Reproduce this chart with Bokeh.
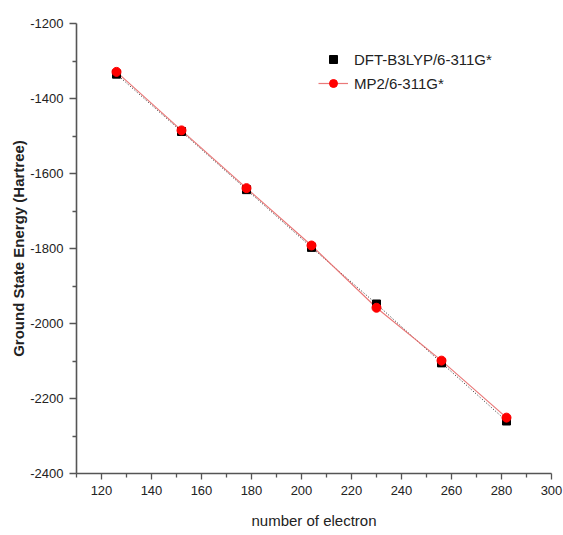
from bokeh.plotting import figure
from bokeh.models import (Range1d, FixedTicker, Legend, LegendItem,
                          PrintfTickFormatter)
from bokeh.embed import file_html
from bokeh.resources import INLINE

# Number of electrons per system
electrons = [126, 152, 178, 204, 230, 256, 282]
# Ground state energies (Hartree)
dft_b3lyp = [-1335, -1488, -1643, -1797, -1948, -2105, -2260]
mp2 = [-1329, -1485, -1639, -1792, -1958, -2099, -2251]

x_major = [120, 140, 160, 180, 200, 220, 240, 260, 280, 300]
x_minor = [110, 130, 150, 170, 190, 210, 230, 250, 270, 290]
y_major = [-2400, -2200, -2000, -1800, -1600, -1400, -1200]
y_minor = [-2300, -2100, -1900, -1700, -1500, -1300]

FONT = "Liberation Sans"
AXIS_COLOR = "#555555"
TEXT_COLOR = "#222222"

p = figure(width=563, height=535, output_backend="svg", toolbar_location=None,
           x_range=Range1d(110, 300), y_range=Range1d(-2400, -1200),
           min_border_left=76, min_border_right=12,
           min_border_top=23, min_border_bottom=62)
p.background_fill_color = "white"
p.border_fill_color = "white"
p.outline_line_color = None
p.grid.visible = False

# connecting lines
dft_line = p.line(electrons, dft_b3lyp, line_color="#222222", line_width=1,
                  line_dash="1 2")
mp2_line = p.line(electrons, mp2, line_color="#e86a6a", line_width=1.2,
                  line_alpha=0.9)

# markers
dft_pts = p.scatter(electrons, dft_b3lyp, marker="square", size=8,
                    fill_color="black", line_color="black")
mp2_pts = p.scatter(electrons, mp2, marker="circle", size=9,
                    fill_color="#ff0000", line_color="#ff0000")

# axes
for ax in (p.xaxis[0], p.yaxis[0]):
    ax.axis_line_color = AXIS_COLOR
    ax.axis_line_width = 1.6
    ax.major_tick_line_color = AXIS_COLOR
    ax.minor_tick_line_color = AXIS_COLOR
    ax.major_tick_line_width = 1.3
    ax.minor_tick_line_width = 1.3
    ax.major_tick_in = 0
    ax.minor_tick_in = 0
    ax.major_label_text_font = FONT
    ax.major_label_text_font_size = "13px"
    ax.major_label_text_color = TEXT_COLOR
    ax.formatter = PrintfTickFormatter(format="%d")

p.xaxis.ticker = FixedTicker(ticks=x_major, minor_ticks=x_minor)
p.yaxis.ticker = FixedTicker(ticks=y_major, minor_ticks=y_minor)
p.xaxis.major_tick_out = 6
p.xaxis.minor_tick_out = 4
p.yaxis.major_tick_out = 7
p.yaxis.minor_tick_out = 4
p.xaxis.major_label_standoff = 6
p.yaxis.major_label_standoff = 6

p.xaxis.axis_label = "number of electron"
p.xaxis.axis_label_text_font = FONT
p.xaxis.axis_label_text_font_style = "normal"
p.xaxis.axis_label_text_font_size = "15px"
p.xaxis.axis_label_text_color = TEXT_COLOR
p.xaxis.axis_label_standoff = 14

p.yaxis.axis_label = "Ground State Energy (Hartree)"
p.yaxis.axis_label_text_font = FONT
p.yaxis.axis_label_text_font_style = "bold"
p.yaxis.axis_label_text_font_size = "15px"
p.yaxis.axis_label_text_color = TEXT_COLOR
p.yaxis.axis_label_standoff = 0

legend = Legend(items=[
    LegendItem(label="DFT-B3LYP/6-311G*", renderers=[dft_pts]),
    LegendItem(label="MP2/6-311G*", renderers=[mp2_line, mp2_pts]),
], location=(242, 380))
legend.border_line_color = None
legend.background_fill_alpha = 0
legend.label_text_font = FONT
legend.label_text_font_size = "15px"
legend.label_text_color = TEXT_COLOR
legend.glyph_width = 30
legend.label_standoff = 6
legend.spacing = 4
p.add_layout(legend)

open("out.html", "w").write(file_html(p, INLINE))
